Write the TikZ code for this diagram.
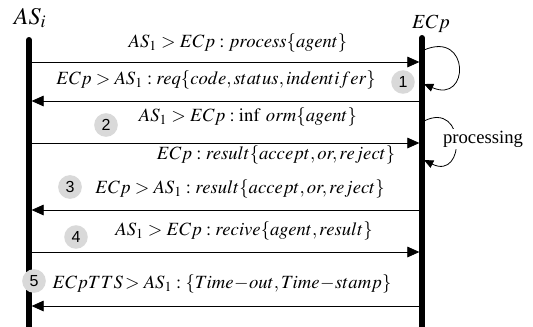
\documentclass[tikz,border=0pt]{standalone}
\usepackage{mathptmx}
\usepackage{fontspec}
\setmainfont{Liberation Serif}
\newfontfamily\numfont{Liberation Sans}
\usetikzlibrary{arrows.meta,positioning}

\begin{document}
\begin{tikzpicture}[x=0.75pt, y=-0.75pt,
    lifeline/.style={line width=4.5pt, line cap=round},
    msg/.style={-{Triangle[length=9pt,width=8pt]}, line width=0.6pt, shorten >=2pt},
    selfmsg/.style={-{Triangle[length=7pt,width=6pt]}, line width=0.6pt},
    lbl/.style={font=\fontsize{14}{16}\selectfont, inner sep=1pt},
    stepno/.style={circle, fill=black!15, inner sep=2.5pt, font=\numfont\fontsize{12}{14}\selectfont}]

    \useasboundingbox (0,0) rectangle (533,326);

    \node (asi) at (30,18) {\fontsize{18}{20}\selectfont $AS_i$};
    \node (ecp) at (431,24) {\fontsize{15}{17}\selectfont $ECp$};

    \coordinate (astop) at (29,40);
    \coordinate (asbot) at (29,330);
    \coordinate (ectop) at (422,38);
    \coordinate (ecbot) at (422,330);
    \draw[lifeline] (astop) -- (asbot);
    \draw[lifeline] (ectop) -- (ecbot);

    % message end points
    \coordinate (as1) at (29,62);  \coordinate (ec1) at (422,62);
    \coordinate (as2) at (29,101); \coordinate (ec2) at (422,101);
    \coordinate (as3) at (29,143); \coordinate (ec3) at (422,143);
    \coordinate (as4) at (29,210); \coordinate (ec4) at (422,210);
    \coordinate (as5) at (29,252); \coordinate (ec5) at (422,252);
    \coordinate (as6) at (29,306); \coordinate (ec6) at (422,306);

    \path[msg]
        (as1) edge (ec1)
        (ec2) edge (as2)
        (as3) edge (ec3)
        (ec4) edge (as4)
        (as5) edge (ec5)
        (ec6) edge (as6);

    \node[lbl] (m1) at (238,43)  {$AS_1 > ECp : process\{agent\}$};
    \node[lbl] (m2) at (216,80)  {$ECp > AS_1 : req\{code, status, indentifer\}$};
    \node[lbl] (m3) at (248,117) {$AS_1 > ECp : \inf\; orm\{agent\}$};
    \node[lbl] (m4) at (276,155) {$ECp : result\{accept, or, reject\}$};
    \node[lbl] (m5) at (240,189) {$ECp > AS_1 : result\{accept, or, reject\}$};
    \node[lbl] (m6) at (244,231) {$AS_1 > ECp : recive\{agent, result\}$};
    \node[lbl] (m7) at (222,284) {$ECpTTS\!> AS_1 : \{Time\!-\!out, Time\!-\!stamp\}$};

    % step numbers
    \node[stepno] (n1) at (403,82)  {1};
    \node[stepno] (n2) at (106,125) {2};
    \node[stepno] (n3) at (70,187)  {3};
    \node[stepno] (n4) at (76,237)  {4};
    \node[stepno] (n5) at (34,281)  {5};

    % self loops on ECp
    \coordinate (lp1a) at (424,50);
    \coordinate (lp1b) at (424,84);
    \draw[selfmsg] (lp1a) .. controls (470,30) and (470,104) .. (lp1b);

    \coordinate (lp2a) at (424,121);
    \coordinate (lp2b) at (424,160);
    \draw[selfmsg] (lp2a) .. controls (466,100) and (466,181) .. (lp2b);
    \node[fill=white, inner sep=1pt, font=\fontsize{14}{16}\selectfont] (proc) at (483,139) {processing};
\end{tikzpicture}
\end{document}
